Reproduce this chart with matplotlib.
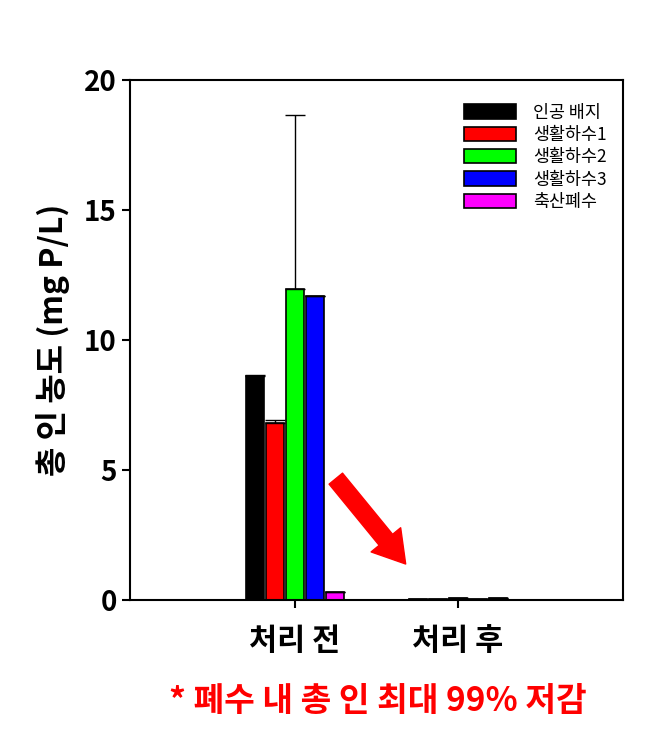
import matplotlib
matplotlib.use("Agg")
import matplotlib.pyplot as plt
import numpy as np

plt.rcParams['font.family'] = ['Noto Sans CJK KR', 'DejaVu Sans']

groups = ['처리 전', '처리 후']
series = ['인공 배지', '생활하수1', '생활하수2', '생활하수3', '축산폐수']
colors = ['#000000', '#ff0000', '#00ff00', '#0000ff', '#ff00ff']
before = [8.6, 6.8, 11.95, 11.7, 0.3]
before_err = [0.05, 0.12, 6.7, 0.0, 0.0]
after = [0.05, 0.05, 0.06, 0.04, 0.06]
after_err = [0.0, 0.0, 0.0, 0.0, 0.0]

fig = plt.figure(figsize=(6.66, 7.49), dpi=100)
ax = fig.add_axes([0.195, 0.199, 0.74, 0.694])
w = 0.11
sp = 0.1225
xg = np.array([1, 2])
for i, (s, c) in enumerate(zip(series, colors)):
    off = (i - 2) * sp
    vals = [before[i], after[i]]
    errs = [[0, 0], [before_err[i], after_err[i]]]
    ax.bar(xg + off, vals, width=w, color=c, edgecolor='black', linewidth=1.2, label=s,
           yerr=errs, error_kw=dict(ecolor='black', elinewidth=1, capsize=7, capthick=1))

ax.set_xlim(-0.012, 3.01)
ax.set_ylim(0, 20)
ax.set_yticks([0, 5, 10, 15, 20])
ax.set_xticks(xg)
ax.set_xticklabels(groups, fontsize=22, fontweight='bold')
ax.tick_params(axis='y', labelsize=20, width=1.5, length=6)
ax.tick_params(axis='x', width=1.5, length=6, pad=12)
for t in ax.get_yticklabels():
    t.set_fontweight('bold')
for sp_ in ax.spines.values():
    sp_.set_linewidth(1.5)
ax.set_ylabel('총 인 농도 (mg P/L)', fontsize=23, fontweight='bold', labelpad=10)

leg = ax.legend(loc='upper right', bbox_to_anchor=(1.0, 0.985), frameon=False, fontsize=12.5,
                handlelength=3.0, handleheight=0.9, labelspacing=0.25, handletextpad=1.0)

ax.annotate('', xy=(1.69, 1.3), xytext=(1.24, 4.75),
            arrowprops=dict(arrowstyle='simple,head_width=1.1,head_length=0.9,tail_width=0.5',
                            color='red', mutation_scale=25))

fig.text(0.567, 0.063, '* 폐수 내 총 인 최대 99% 저감', color='red', fontsize=24,
         fontweight='bold', ha='center', va='center')

fig.savefig('out.png', dpi=100)
